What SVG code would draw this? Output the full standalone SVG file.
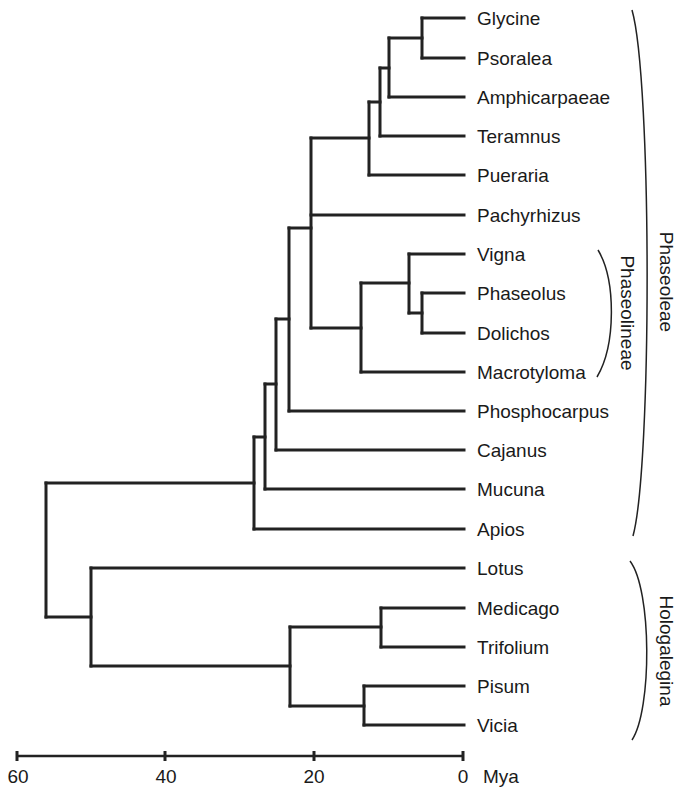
<svg xmlns="http://www.w3.org/2000/svg" width="682" height="795" viewBox="0 0 682 795">
<style>
.br{fill:none;stroke:#222;stroke-width:3;stroke-linecap:square}
.lb{font-family:"Liberation Sans",Arial,sans-serif;font-size:19px;fill:#1a1a1a}
.bk{fill:none;stroke:#222;stroke-width:1.5}
.ax{fill:none;stroke:#222;stroke-width:2.5}
.tk{fill:none;stroke:#222;stroke-width:3}
</style>
<rect width="682" height="795" fill="#fff"/>
<g id="connectors">
<path class="br" d="M422,18V58 M389,38V97 M380,68V136 M369,102V175 M311,138V328 M361,283V372 M409,254V313 M422,293V333 M289,228V411 M276,319V450 M265,384V489 M254,437V529 M46,483V617 M91,568V666 M290,627V706 M381,608V647 M364,686V725"/>
<path class="br" d="M422,18H464 M422,58H464 M389,38H422 M389,97H464 M380,68H389 M380,136H464 M369,102H380 M369,175H464 M311,138H369 M311,215H464 M311,328H361 M361,283H409 M361,372H464 M409,254H464 M409,313H422 M422,293H464 M422,333H464 M289,228H311 M289,411H464 M276,319H289 M276,450H464 M265,384H276 M265,489H464 M254,437H265 M254,529H464 M46,483H254 M46,617H91 M91,568H464 M91,666H290 M290,627H381 M290,706H364 M381,608H464 M381,647H464 M364,686H464 M364,725H464"/>
</g>
<g id="leaves">
<g id="glycine"><text class="lb" x="477" y="25">Glycine</text></g>
<g id="psoralea"><text class="lb" x="477" y="65">Psoralea</text></g>
<g id="amphicarpaeae"><text class="lb" x="477" y="104">Amphicarpaeae</text></g>
<g id="teramnus"><text class="lb" x="477" y="143">Teramnus</text></g>
<g id="pueraria"><text class="lb" x="477" y="182">Pueraria</text></g>
<g id="pachyrhizus"><text class="lb" x="477" y="222">Pachyrhizus</text></g>
<g id="vigna"><text class="lb" x="477" y="261">Vigna</text></g>
<g id="phaseolus"><text class="lb" x="477" y="300">Phaseolus</text></g>
<g id="dolichos"><text class="lb" x="477" y="340">Dolichos</text></g>
<g id="macrotyloma"><text class="lb" x="477" y="379">Macrotyloma</text></g>
<g id="phosphocarpus"><text class="lb" x="477" y="418">Phosphocarpus</text></g>
<g id="cajanus"><text class="lb" x="477" y="457">Cajanus</text></g>
<g id="mucuna"><text class="lb" x="477" y="496">Mucuna</text></g>
<g id="apios"><text class="lb" x="477" y="536">Apios</text></g>
<g id="lotus"><text class="lb" x="477" y="575">Lotus</text></g>
<g id="medicago"><text class="lb" x="477" y="615">Medicago</text></g>
<g id="trifolium"><text class="lb" x="477" y="654">Trifolium</text></g>
<g id="pisum"><text class="lb" x="477" y="693">Pisum</text></g>
<g id="vicia"><text class="lb" x="477" y="732">Vicia</text></g>
</g>
<g id="phaseoleae">
<path class="bk" d="M632,10 C652,80 652,466 633,536"/>
<text class="lb" transform="translate(660,282) rotate(90)" text-anchor="middle">Phaseoleae</text>
</g>
<g id="phaseolineae">
<path class="bk" d="M598,250 C616,280 616,345 597,377"/>
<text class="lb" transform="translate(621,313) rotate(90)" text-anchor="middle">Phaseolineae</text>
</g>
<g id="hologalegina">
<path class="bk" d="M630,561 C652,590 652,710 632,740"/>
<text class="lb" transform="translate(660,651) rotate(90)" text-anchor="middle">Hologalegina</text>
</g>
<g id="axis">
<path class="ax" d="M17,756H463"/>
<path class="tk" d="M17,751V761 M165,751V761 M314,751V761 M463,751V761"/>
<text class="lb" x="18" y="783" text-anchor="middle">60</text>
<text class="lb" x="166" y="783" text-anchor="middle">40</text>
<text class="lb" x="314" y="783" text-anchor="middle">20</text>
<text class="lb" x="463" y="783" text-anchor="middle">0</text>
<text class="lb" x="483" y="783">Mya</text>
</g>
</svg>
